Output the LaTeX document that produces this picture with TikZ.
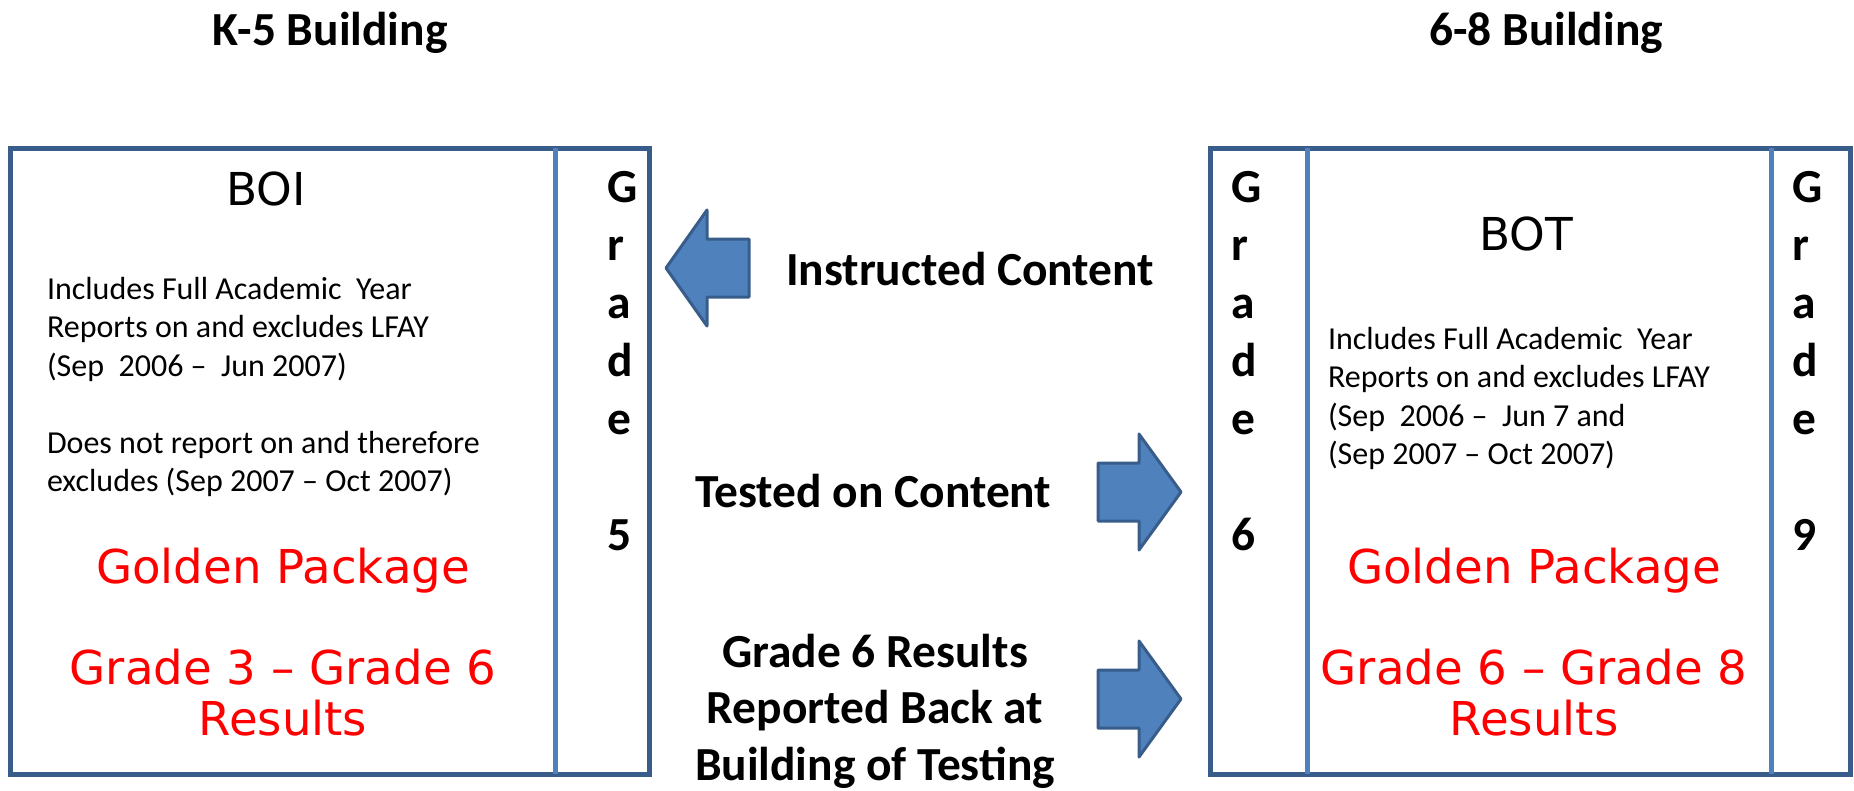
\documentclass[tikz,border=0pt]{standalone}
\usepackage{fontspec}
\setmainfont{Carlito}
\newfontfamily\widefont{DejaVu Sans}
\definecolor{outerblue}{HTML}{385D8A}
\definecolor{innerblue}{HTML}{4F81BD}
\definecolor{pptred}{HTML}{FF0000}
\tikzset{
  bframe/.style={draw=outerblue, line width=3.75pt},
  divider/.style={draw=innerblue, line width=3.75pt},
  blockarrow/.style={fill=innerblue, draw=outerblue, line width=2.25pt, line join=round},
  txt/.style={inner sep=0pt, outer sep=0pt, anchor=base},
  boldlabel/.style={txt, font=\fontsize{35.6}{43.5}\selectfont\bfseries},
  middlelabel/.style={txt, font=\fontsize{35.6}{42.6}\selectfont\bfseries},
  bodytext/.style={txt, anchor=base west, font=\fontsize{24}{28.9}\selectfont},
  boxtitle/.style={txt, font=\widefont\fontsize{34}{40}\selectfont},
  redtext/.style={txt, text=pptred, font=\widefont\fontsize{35}{38.25}\selectfont},
}
\begin{document}
\begin{tikzpicture}[x=0.75pt,y=-0.75pt]
\useasboundingbox (0,0) rectangle (1854,790);
% titles
\node[boldlabel] (k5) at (330,45) {K-5 Building};
\node[boldlabel] (b68) at (1546,45) {6-8 Building};
% left box
\draw[bframe] (10,148) rectangle (649,774);
\draw[divider] (555,148) -- (555,774);
% right box
\draw[bframe] (1210,148) rectangle (1850,774);
\draw[divider] (1307,148) -- (1307,774);
\draw[divider] (1771,148) -- (1771,774);
% grade strips
\node[boldlabel, anchor=base west] (g5) at (607,202)
  {\begin{tabular}[t]{@{}l@{}}G\\r\\a\\d\\e\\ \\5\end{tabular}};
\node[boldlabel, anchor=base west] (g6) at (1231,202)
  {\begin{tabular}[t]{@{}l@{}}G\\r\\a\\d\\e\\ \\6\end{tabular}};
\node[boldlabel, anchor=base west] (g9) at (1792,202)
  {\begin{tabular}[t]{@{}l@{}}G\\r\\a\\d\\e\\ \\9\end{tabular}};
% left box content
\node[boxtitle] (boi) at (266,205) {BOI};
\node[bodytext] (lbody) at (47,299)
  {\begin{tabular}[t]{@{}l@{}}Includes Full Academic\ \ Year\\
  Reports on and excludes LFAY\\
  (Sep\ \ 2006 --\ \ Jun 2007)\\
  \\
  Does not report on and therefore\\
  excludes (Sep 2007 -- Oct 2007)\end{tabular}};
\node[redtext] (lgold) at (283,583) {Golden Package};
\node[redtext] (lres) at (283,684)
  {\begin{tabular}[t]{@{}c@{}}Grade 3 – Grade 6\\Results\end{tabular}};
% right box content
\node[boxtitle] (bot) at (1526,250) {BOT};
\node[bodytext] (rbody) at (1328,349)
  {\begin{tabular}[t]{@{}l@{}}Includes Full Academic\ \ Year\\
  Reports on and excludes LFAY\\
  (Sep\ \ 2006 --\ \ Jun 7 and\\
  (Sep 2007 -- Oct 2007)\end{tabular}};
\node[redtext] (rgold) at (1534,583) {Golden Package};
\node[redtext] (rres) at (1534,684)
  {\begin{tabular}[t]{@{}c@{}}Grade 6 – Grade 8\\Results\end{tabular}};
% middle labels
\node[boldlabel, anchor=base west] (instr) at (786,285) {Instructed Content};
\node[boldlabel, anchor=base west] (tested) at (695,507) {Tested on Content};
\node[middlelabel] (reported) at (875,667)
  {\begin{tabular}[t]{@{}c@{}}Grade 6 Results\\Reported Back at\\Building of Testing\end{tabular}};
% block arrows
\draw[blockarrow] (666,268) -- (707,210) -- (707,239) -- (749,239) -- (749,297)
  -- (707,297) -- (707,326) -- cycle;
\draw[blockarrow] (1181,492) -- (1139,434) -- (1139,463) -- (1098,463) -- (1098,521)
  -- (1139,521) -- (1139,550) -- cycle;
\draw[blockarrow] (1181,699) -- (1139,641) -- (1139,670) -- (1098,670) -- (1098,728)
  -- (1139,728) -- (1139,757) -- cycle;
\end{tikzpicture}
\end{document}
